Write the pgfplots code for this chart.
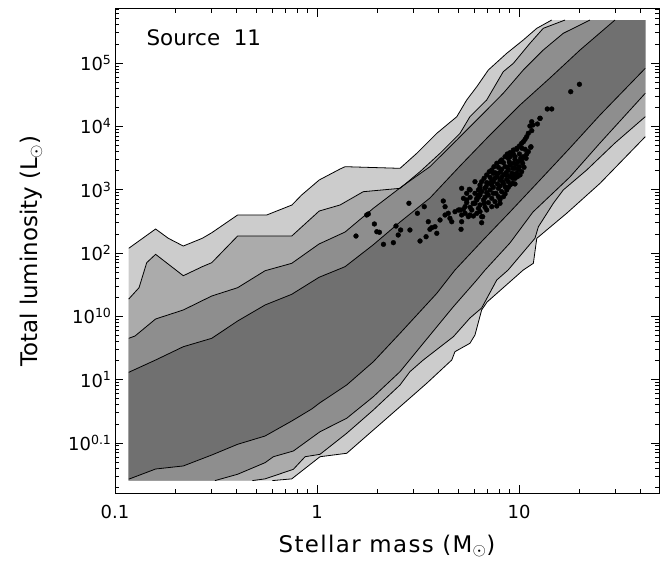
\documentclass[border=0pt]{standalone}
\usepackage{fontspec}
\setmainfont{DejaVu Sans}
\usepackage{pgfplots}
\pgfplotsset{compat=1.18}
% band shades, outermost to innermost
\definecolor{bandA}{gray}{0.80}
\definecolor{bandB}{gray}{0.67}
\definecolor{bandC}{gray}{0.555}
\definecolor{bandD}{gray}{0.44}
\begin{document}
\begin{tikzpicture}
\begin{axis}[
    name=ax,
    scale only axis,
    width=544bp, height=484bp,
    xmin=-1, xmax=1.693, ymin=-1.79, ymax=5.853,
    axis line style={line width=1pt},
    tick style={black, line width=0.8pt},
    tick align=inside,
    major tick length=8bp, minor tick length=4.5bp,
    xtick={-1,0,1}, xticklabels={0.1,1,10},
    minor xtick={-0.699,-0.523,-0.398,-0.301,-0.222,-0.155,-0.097,-0.046,
        0.301,0.477,0.602,0.699,0.778,0.845,0.903,0.954,1.301,1.477,1.602},
    ytick={-1,0,1,2,3,4,5},
    yticklabels={10\textsuperscript{0.1},10\textsuperscript{1},10\textsuperscript{10},
        10\textsuperscript{2},10\textsuperscript{3},10\textsuperscript{4},10\textsuperscript{5}},
    minor ytick={-1.699,-1.523,-1.398,-1.301,-1.222,-1.155,-1.097,-1.046,
        -0.699,-0.523,-0.398,-0.301,-0.222,-0.155,-0.097,-0.046,
        0.301,0.477,0.602,0.699,0.778,0.845,0.903,0.954,
        1.301,1.477,1.602,1.699,1.778,1.845,1.903,1.954,
        2.301,2.477,2.602,2.699,2.778,2.845,2.903,2.954,
        3.301,3.477,3.602,3.699,3.778,3.845,3.903,3.954,
        4.301,4.477,4.602,4.699,4.778,4.845,4.903,4.954,
        5.301,5.477,5.602,5.699,5.778,5.845},
    tick label style={font=\fontsize{18}{20}\selectfont},
    xticklabel style={yshift=-9bp},
    xlabel={Stellar mass (M$_\odot$)},
    ylabel={Total luminosity (L$_\odot$)},
    label style={font=\fontsize{23}{25}\selectfont},
    xlabel style={at={(axis description cs:0.5,-0.1219)}, anchor=base,
        font=\fontsize{23}{25}\selectfont\addfontfeature{LetterSpace=6}},
    ylabel style={at={(axis description cs:-0.127,0.5)}, anchor=south},
    clip=true,
]
%% filled bands (log10 units)
\addplot[fill=bandA, draw=none] coordinates {
(-0.932,2.074) (-0.799,2.379) (-0.736,2.232) (-0.662,2.110) (-0.568,2.232) (-0.521,2.320)
(-0.393,2.600) (-0.249,2.600) (-0.124,2.758) (-0.076,2.916) (0.011,3.153) (0.114,3.326)
(0.139,3.363) (0.411,3.337) (0.494,3.574) (0.593,3.890) (0.692,4.152) (0.741,4.416)
(0.791,4.626) (0.848,4.889) (0.939,5.153) (1.021,5.363) (1.088,5.548) (1.162,5.679)
(1.625,5.679)
(1.625,3.836) (1.401,3.100) (1.236,2.627) (1.088,2.232) (1.071,1.837) (1.021,1.731)
(0.842,1.226) (0.815,1.100) (0.782,0.705) (0.757,0.574) (0.683,0.442) (0.667,0.310)
(0.543,-0.058) (0.411,-0.427) (0.279,-0.795) (0.147,-1.163) (0.015,-1.217) (-0.125,-1.567)
(-0.221,-1.594) (-0.932,-1.594)};
\addplot[fill=bandB, draw=none] coordinates {
(-0.932,1.273) (-0.881,1.452) (-0.843,1.847) (-0.799,1.979) (-0.662,1.641) (-0.568,1.784)
(-0.521,1.847) (-0.393,2.268) (-0.125,2.268) (0.011,2.663) (0.114,2.758) (0.229,2.968)
(0.411,3.021) (0.510,3.284) (0.609,3.574) (0.708,3.890) (0.757,4.152) (0.840,4.416)
(0.922,4.863) (0.972,4.995) (1.054,5.311) (1.120,5.548) (1.228,5.679)
(1.625,5.679)
(1.625,4.152) (1.475,3.737) (1.335,3.310) (1.219,2.995) (1.170,2.785) (1.096,2.415)
(1.079,2.232) (0.946,1.731) (0.890,1.574) (0.815,1.131) (0.757,0.973) (0.675,0.678)
(0.526,0.310) (0.460,0.126) (0.411,-0.084) (0.279,-0.479) (0.147,-0.847) (0.015,-1.179)
(-0.059,-1.217) (-0.117,-1.416) (-0.257,-1.567) (-0.320,-1.594) (-0.932,-1.594)};
\addplot[fill=bandC, draw=none] coordinates {
(-0.932,0.653) (-0.901,0.689) (-0.799,0.958) (-0.662,1.100) (-0.521,1.321) (-0.393,1.452)
(-0.257,1.720) (-0.125,1.837) (0.010,2.142) (0.139,2.331) (0.279,2.706) (0.419,3.047)
(0.559,3.363) (0.692,3.784) (0.791,4.100) (0.922,4.522) (1.021,4.889) (1.120,5.205)
(1.219,5.469) (1.351,5.679)
(1.625,5.679)
(1.625,4.522) (1.401,3.737) (1.252,3.200) (1.069,2.647) (0.955,2.158) (0.832,1.731)
(0.791,1.574) (0.675,1.152) (0.526,0.574) (0.411,0.126) (0.279,-0.269) (0.147,-0.610)
(0.015,-0.822) (-0.117,-1.127) (-0.216,-1.217) (-0.257,-1.311) (-0.393,-1.494)
(-0.505,-1.594) (-0.932,-1.594)};
\addplot[fill=bandD, draw=none] coordinates {
(-0.932,0.116) (-0.799,0.310) (-0.662,0.520) (-0.521,0.653) (-0.393,0.926) (-0.257,1.179)
(-0.125,1.348) (0.010,1.616) (0.139,1.784) (0.277,2.126) (0.411,2.489) (0.559,2.868)
(0.708,3.374) (0.856,3.863) (1.005,4.337) (1.153,4.763) (1.302,5.205) (1.475,5.679)
(1.625,5.679)
(1.625,4.916) (1.401,4.179) (1.252,3.658) (1.104,3.153) (0.955,2.647) (0.822,2.205)
(0.683,1.731) (0.593,1.363) (0.411,0.732) (0.279,0.283) (0.147,-0.084) (0.015,-0.364)
(-0.026,-0.463) (-0.125,-0.653) (-0.257,-0.890) (-0.393,-1.021) (-0.521,-1.190)
(-0.662,-1.363) (-0.799,-1.411) (-0.932,-1.572) (-0.932,-1.594)};
%% contour lines
\addplot[black, line width=0.8pt] coordinates {
(-0.932,2.074) (-0.799,2.379) (-0.736,2.232) (-0.662,2.110) (-0.568,2.232) (-0.521,2.320)
(-0.393,2.600) (-0.249,2.600) (-0.124,2.758) (-0.076,2.916) (0.011,3.153) (0.114,3.326)
(0.139,3.363) (0.411,3.337) (0.494,3.574) (0.593,3.890) (0.692,4.152) (0.741,4.416)
(0.791,4.626) (0.848,4.889) (0.939,5.153) (1.021,5.363) (1.088,5.548) (1.162,5.679)};
\addplot[black, line width=0.8pt] coordinates {
(1.625,3.836) (1.401,3.100) (1.236,2.627) (1.088,2.232) (1.071,1.837) (1.021,1.731)
(0.842,1.226) (0.815,1.100) (0.782,0.705) (0.757,0.574) (0.683,0.442) (0.667,0.310)
(0.543,-0.058) (0.411,-0.427) (0.279,-0.795) (0.147,-1.163) (0.015,-1.217) (-0.125,-1.567)
(-0.221,-1.594)};
\addplot[black, line width=0.8pt] coordinates {
(-0.932,1.273) (-0.881,1.452) (-0.843,1.847) (-0.799,1.979) (-0.662,1.641) (-0.568,1.784)
(-0.521,1.847) (-0.393,2.268) (-0.125,2.268) (0.011,2.663) (0.114,2.758) (0.229,2.968)
(0.411,3.021) (0.510,3.284) (0.609,3.574) (0.708,3.890) (0.757,4.152) (0.840,4.416)
(0.922,4.863) (0.972,4.995) (1.054,5.311) (1.120,5.548) (1.228,5.679)};
\addplot[black, line width=0.8pt] coordinates {
(1.625,4.152) (1.475,3.737) (1.335,3.310) (1.219,2.995) (1.170,2.785) (1.096,2.415)
(1.079,2.232) (0.946,1.731) (0.890,1.574) (0.815,1.131) (0.757,0.973) (0.675,0.678)
(0.526,0.310) (0.460,0.126) (0.411,-0.084) (0.279,-0.479) (0.147,-0.847) (0.015,-1.179)
(-0.059,-1.217) (-0.117,-1.416) (-0.257,-1.567) (-0.320,-1.594)};
\addplot[black, line width=0.8pt] coordinates {
(-0.932,0.653) (-0.901,0.689) (-0.799,0.958) (-0.662,1.100) (-0.521,1.321) (-0.393,1.452)
(-0.257,1.720) (-0.125,1.837) (0.010,2.142) (0.139,2.331) (0.279,2.706) (0.419,3.047)
(0.559,3.363) (0.692,3.784) (0.791,4.100) (0.922,4.522) (1.021,4.889) (1.120,5.205)
(1.219,5.469) (1.351,5.679)};
\addplot[black, line width=0.8pt] coordinates {
(1.625,4.522) (1.401,3.737) (1.252,3.200) (1.069,2.647) (0.955,2.158) (0.832,1.731)
(0.791,1.574) (0.675,1.152) (0.526,0.574) (0.411,0.126) (0.279,-0.269) (0.147,-0.610)
(0.015,-0.822) (-0.117,-1.127) (-0.216,-1.217) (-0.257,-1.311) (-0.393,-1.494)
(-0.505,-1.594)};
\addplot[black, line width=0.8pt] coordinates {
(-0.932,0.116) (-0.799,0.310) (-0.662,0.520) (-0.521,0.653) (-0.393,0.926) (-0.257,1.179)
(-0.125,1.348) (0.010,1.616) (0.139,1.784) (0.277,2.126) (0.411,2.489) (0.559,2.868)
(0.708,3.374) (0.856,3.863) (1.005,4.337) (1.153,4.763) (1.302,5.205) (1.475,5.679)};
\addplot[black, line width=0.8pt] coordinates {
(1.625,4.916) (1.401,4.179) (1.252,3.658) (1.104,3.153) (0.955,2.647) (0.822,2.205)
(0.683,1.731) (0.593,1.363) (0.411,0.732) (0.279,0.283) (0.147,-0.084) (0.015,-0.364)
(-0.026,-0.463) (-0.125,-0.653) (-0.257,-0.890) (-0.393,-1.021) (-0.521,-1.190)
(-0.662,-1.363) (-0.799,-1.411) (-0.932,-1.572)};
%% observed sources
\addplot[only marks, mark=*, mark size=2.4bp, black] coordinates {
(1.299,4.664) (1.256,4.547) (1.140,4.274) (1.162,4.274) (1.104,4.127) (1.063,4.073)
(1.054,4.005) (1.059,3.678) (1.015,3.653) (0.246,2.600) (0.254,2.616) (0.193,2.268)
(0.284,2.458) (0.296,2.336) (0.309,2.327) (0.329,2.137) (0.378,2.163) (0.391,2.426)
(0.402,2.284) (0.414,2.363) (0.455,2.785) (0.460,2.363) (0.497,2.627) (0.510,2.189)
(0.531,2.731) (0.540,2.257) (0.551,2.494) (0.559,2.374) (0.568,2.400) (0.584,2.415)
(0.593,2.311) (0.609,2.521) (0.625,2.821) (0.634,2.731) (0.634,2.600) (0.650,2.627)
(0.658,2.548) (0.667,2.494) (0.683,2.652) (0.700,2.679) (0.713,2.374) (0.716,2.494)
(0.733,2.627) (0.741,2.837) (0.754,3.005) (0.757,2.600) (0.774,2.785) (0.791,2.837)
(0.799,2.916) (0.807,2.995) (0.815,2.478) (0.820,2.573) (0.827,2.785)
(1.104,4.126) (1.091,4.037) (1.068,4.021) (1.063,3.932) (1.046,3.890) (1.038,3.837)
(1.030,3.795) (1.022,3.758) (1.013,3.732) (1.002,3.690) (0.989,3.653) (0.972,3.626)
(0.956,3.584) (0.942,3.563) (0.931,3.521) (0.914,3.469) (0.906,3.442) (0.890,3.416)
(0.876,3.363) (0.865,3.311) (0.853,3.284) (0.840,3.232) (0.827,3.179) (0.815,3.126)
(0.807,3.074) (0.799,2.995) (1.058,3.669) (1.046,3.600) (1.022,3.521) (1.013,3.469)
(0.997,3.442) (1.002,3.363) (1.013,3.284) (0.980,3.337) (0.972,3.416) (0.956,3.390)
(0.947,3.311) (0.931,3.363) (0.939,3.232) (0.956,3.205) (0.980,3.179) (0.969,3.100)
(0.947,3.126) (0.923,3.100) (0.906,3.153) (0.890,3.205) (0.873,3.126) (0.865,3.074)
(0.898,3.021) (0.914,2.969) (0.939,2.995) (0.923,2.890) (0.898,2.890) (0.873,2.942)
(0.857,2.995) (0.848,2.916) (0.881,2.811) (0.906,2.784) (0.865,2.732) (0.840,2.679)
(0.824,2.837) (0.807,2.916) (0.791,2.863) (0.774,2.784) (0.758,2.995) (0.741,2.942)
(0.725,2.863) (0.716,3.021) (0.766,2.679) (0.749,2.574) (0.791,2.626) (0.815,2.574)
(0.733,2.732) (0.708,2.679) (0.782,3.126) (0.956,3.521) (0.980,3.521) (0.989,3.258)
(0.898,3.258) (0.923,3.232) (0.873,3.258) (0.848,3.100) (0.832,3.021) (0.931,3.047)
(0.989,3.637) (1.030,3.637) (0.972,3.563) (1.002,3.563) (1.038,3.563) (0.947,3.495)
(0.980,3.479) (1.008,3.495) (1.035,3.495) (0.923,3.426) (0.952,3.437) (0.985,3.405)
(1.018,3.416) (0.898,3.353) (0.914,3.321) (0.942,3.353) (0.969,3.337) (0.997,3.321)
(1.025,3.353) (0.881,3.268) (0.909,3.284) (0.936,3.268) (0.964,3.258) (0.975,3.247)
(1.005,3.232) (0.857,3.195) (0.881,3.179) (0.914,3.195) (0.939,3.163) (0.969,3.179)
(0.992,3.205) (0.840,3.111) (0.865,3.142) (0.893,3.090) (0.919,3.126) (0.956,3.074)
(0.980,3.090) (0.807,3.037) (0.837,3.047) (0.873,3.037) (0.906,3.058) (0.947,3.037)
(0.782,2.942) (0.815,2.968) (0.840,2.953) (0.886,2.942) (0.931,2.932) (0.758,2.879)
(0.799,2.879) (0.832,2.879) (0.865,2.863) (0.906,2.847) (0.741,2.795) (0.782,2.784)
(0.807,2.758) (0.848,2.795) (0.890,2.742) (0.725,2.690) (0.758,2.721) (0.799,2.705)
(0.832,2.721) (0.716,2.600) (0.774,2.584) (0.807,2.653)};
\node[anchor=base west, font=\fontsize{21.5}{23}\selectfont] at (axis cs:-0.861,5.284) {Source\ \ 11};
\end{axis}
\path ([xshift=-115bp,yshift=-72bp]ax.south west) rectangle ([xshift=12bp,yshift=9bp]ax.north east);
\end{tikzpicture}
\end{document}
